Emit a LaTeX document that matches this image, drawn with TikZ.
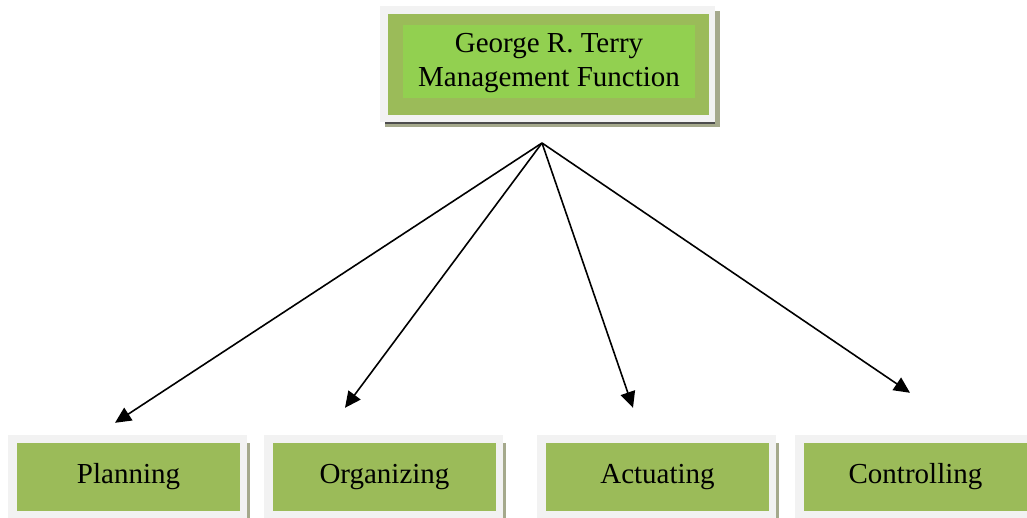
\documentclass[tikz,border=0pt]{standalone}
\usepackage{fontspec}
\setmainfont{Liberation Serif}
\usetikzlibrary{arrows.meta,backgrounds}
\definecolor{olivegreen}{HTML}{9BBB59}
\definecolor{lightgreen}{HTML}{92D050}
\definecolor{framegray}{HTML}{F2F2F2}
\definecolor{shadowgray}{HTML}{A5A98C}
\definecolor{darkshade}{HTML}{4D4D4D}
\begin{document}
\begin{tikzpicture}[>={Triangle[length=16pt,width=15pt]},x=1pt,y=1pt,
	every node/.style={font=\fontsize{29}{34}\selectfont,inner sep=0pt},
	func/.style={fill=olivegreen,minimum width=223pt,minimum height=68pt},
	head/.style={fill=lightgreen,minimum width=292pt,minimum height=73pt,align=center,text depth=4pt},
	link/.style={->,line width=1.6pt}]
		\useasboundingbox (0,0) rectangle (1027,518);
		\node[head] (top) at (549,456.5) {George R. Terry\\Management Function};
		\node[func] (plan) at (128.5,41) {Planning};
		\node[func] (org) at (384.5,41) {Organizing};
		\node[func] (act) at (657.5,41) {Actuating};
		\node[func] (ctrl) at (915.5,41) {Controlling};
		\coordinate (hub) at (542,375);
		% frames and shadows
		\begin{scope}[on background layer]
			\fill[shadowgray] ([shift={(-18,14)}]top.north west) rectangle ([shift={(25,-29)}]top.south east);
			\fill[framegray] ([shift={(-23,19)}]top.north west) rectangle ([shift={(20,-24)}]top.south east);
			\fill[darkshade] ([shift={(-18,-24)}]top.south west) rectangle ([shift={(20,-26)}]top.south east);
			\fill[olivegreen] ([shift={(-15,11)}]top.north west) rectangle ([shift={(14,-17)}]top.south east);
			\foreach \n in {plan,org,act,ctrl}{
				\fill[shadowgray] ([shift={(7,0)}]\n.north east) rectangle ([shift={(10,-7)}]\n.south east);
				\fill[framegray] ([shift={(-9,8)}]\n.north west) rectangle ([shift={(7,-7)}]\n.south east);
			}
		\end{scope}
		\draw[link] (hub) -- ([shift={(-13.5,20)}]plan.north);
		\draw[link] (hub) -- ([shift={(-39.5,35)}]org.north);
		\draw[link] (hub) -- ([shift={(-24.5,35)}]act.north);
		\draw[link] (hub) -- ([shift={(-5.5,50)}]ctrl.north);
\end{tikzpicture}
\end{document}
